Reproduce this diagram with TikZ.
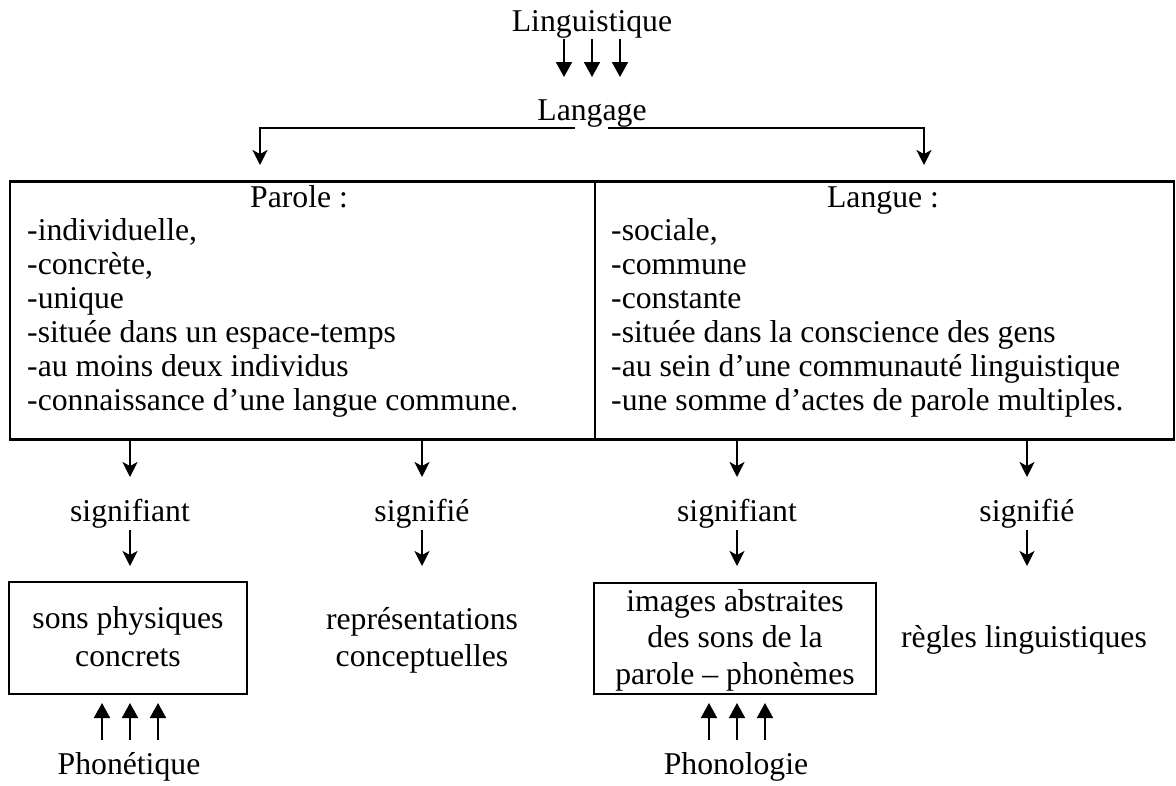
\documentclass[tikz,border=0pt]{standalone}
\usepackage{fontspec}
\setmainfont{Liberation Serif}
\usetikzlibrary{arrows.meta,calc}
\begin{document}
\begin{tikzpicture}[x=1pt,y=-1pt,
  every node/.style={font=\fontsize{31.7pt}{36pt}\selectfont, inner sep=0pt},
  txt/.style={anchor=base},
  item/.style={anchor=base west},
  frame/.style={draw, line width=2.3pt},
  stl/.style={line width=1.8pt, -{Stealth[length=15pt,width=15pt,inset=4pt]}},
  tri/.style={line width=1.8pt, -{Triangle[length=15pt,width=16pt]}}]
\useasboundingbox (0,0) rectangle (1176,785);

% top of the hierarchy
\node[txt] (ling) at (592,31) {Linguistique};
\node[txt] (lang) at (592,120) {Langage};
\foreach \dx in {-28,0,28}
  \draw[tri] ($(ling.base)+(\dx,8)$) -- ($(lang.base)+(\dx,-43)$);

% the two frames
\node[frame, minimum width=585pt, minimum height=258pt] (parole) at (302.5,310.5) {};
\node[frame, minimum width=579pt, minimum height=258pt] (langue) at (884.5,310.5) {};

\coordinate (inP) at (260,165);
\coordinate (inL) at (924,165);
\draw[stl] ($(lang.base)+(-17,8)$) -| (inP);
\draw[stl] ($(lang.base)+(16,8)$) -| (inL);

% Parole
\node[txt] (ptitle) at (299,207) {Parole :};
\foreach \t [count=\i] in {{-individuelle,},{-concrète,},{-unique},{-située dans un espace-temps},{-au moins deux individus},{-connaissance d’une langue commune.}}
  \node[item] (p\i) at (27,206+34*\i) {\t};

% Langue
\node[txt] (ltitle) at (883,207) {Langue :};
\foreach \t [count=\i] in {{-sociale,},{-commune},{-constante},{-située dans la conscience des gens},{-au sein d’une communauté linguistique},{-une somme d’actes de parole multiples.}}
  \node[item] (l\i) at (611,206+34*\i) {\t};

% signifiant / signifié
\node[txt] (s1) at (130,521) {signifiant};
\node[txt] (s2) at (422,521) {signifié};
\node[txt] (s3) at (737,521) {signifiant};
\node[txt] (s4) at (1027,521) {signifié};
\foreach \s/\b in {s1/parole,s2/parole,s3/langue,s4/langue}{
  \draw[stl] (\s |- \b.south) -- ($(\s.base)+(0,-44)$);
  \draw[stl] ($(\s.base)+(0,9)$) -- ($(\s.base)+(0,45)$);
}

% lower level
\node[frame, minimum width=238pt, minimum height=112pt] (sons) at (128,638) {};
\node[txt] (sons1) at (128,628) {sons physiques};
\node[txt] (sons2) at (128,666) {concrets};

\node[txt] (rep1) at (422,629) {représentations};
\node[txt] (rep2) at (422,666) {conceptuelles};

\node[frame, minimum width=282pt, minimum height=111pt] (images) at (735,638.5) {};
\node[txt] (im1) at (735,611) {images abstraites};
\node[txt] (im2) at (735,647.5) {des sons de la};
\node[txt] (im3) at (735,684) {parole – phonèmes};

\node[txt] (regles) at (1024,647) {règles linguistiques};

% disciplines
\node[txt] (phonet) at (129,774) {Phonétique};
\node[txt] (phonol) at (736,774) {Phonologie};
\foreach \dx in {-28,0,28}{
  \draw[tri] ($(phonet.base)+(\dx+1,-34)$) -- ($(phonet.base)+(\dx+1,-71)$);
  \draw[tri] ($(phonol.base)+(\dx+1,-34)$) -- ($(phonol.base)+(\dx+1,-71)$);
}
\end{tikzpicture}
\end{document}
